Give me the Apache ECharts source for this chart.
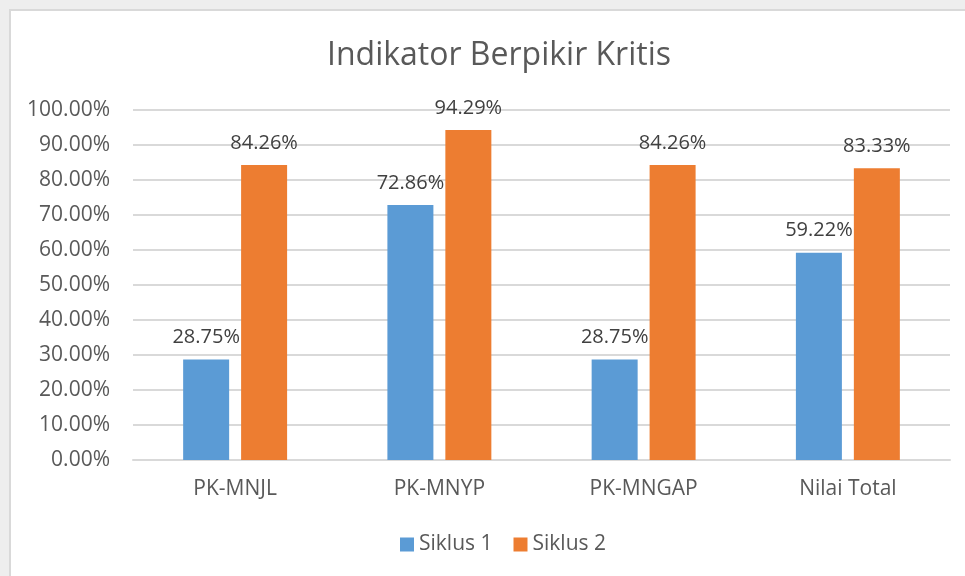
<!DOCTYPE html>
<html>
<head>
<meta charset="utf-8">
<script src="https://cdn.jsdelivr.net/npm/echarts@6/dist/echarts.min.js"></script>
<style>
  html, body { margin: 0; padding: 0; background: #eeeeee; }
  #main { width: 965px; height: 576px; }
</style>
</head>
<body>
<div id="main"></div>
<script>
const categories = ['PK-MNJL', 'PK-MNYP', 'PK-MNGAP', 'Nilai Total']
const siklus1 = [28.75, 72.86, 28.75, 59.22]
const siklus2 = [84.26, 94.29, 84.26, 83.33]
const yTicks = [0, 10, 20, 30, 40, 50, 60, 70, 80, 90, 100]

const textColor = '#595959'
const fontFamily = '"Open Sans", sans-serif'

let myChart = echarts.init(document.getElementById('main'))

const labelStyle = {
  show: true,
  position: 'top',
  distance: 12,
  color: '#404040',
  fontSize: 20,
  fontFamily: fontFamily,
  formatter: p => p.value.toFixed(2) + '%'
}

myChart.setOption({
  backgroundColor: '#eeeeee',
  animation: false,
  graphic: [
    {
      type: 'rect',
      z: -10,
      shape: { x: 10, y: 10, width: 980, height: 600 },
      style: { fill: '#ffffff', stroke: '#d9d9d9', lineWidth: 2 }
    }
  ],
  // the chart box is wider than the window, so centre is shifted right
  title: {
    text: 'Indikator Berpikir Kritis',
    left: 322,
    top: 35,
    textStyle: {
      color: textColor,
      fontSize: 32,
      fontWeight: 'normal',
      fontFamily: fontFamily
    }
  },
  legend: {
    data: ['Siklus 1', 'Siklus 2'],
    bottom: 16,
    left: 395,
    itemWidth: 14,
    itemHeight: 14,
    itemGap: 21,
    icon: 'rect',
    textStyle: { color: textColor, fontSize: 21, fontFamily: fontFamily }
  },
  grid: { left: 133, right: 15, top: 110, bottom: 116 },
  xAxis: {
    type: 'category',
    data: categories,
    axisLine: { lineStyle: { color: '#d9d9d9', width: 2 } },
    axisTick: { show: false },
    axisLabel: {
      color: textColor,
      fontSize: 21,
      fontFamily: fontFamily,
      margin: 19
    }
  },
  yAxis: {
    type: 'value',
    min: yTicks[0],
    max: yTicks[yTicks.length - 1],
    interval: 10,
    axisLine: { show: false },
    axisTick: { show: false },
    splitLine: { lineStyle: { color: '#d9d9d9', width: 2 } },
    axisLabel: {
      color: textColor,
      fontSize: 21,
      fontFamily: fontFamily,
      margin: 23,
      formatter: v => v.toFixed(2) + '%'
    }
  },
  series: [
    {
      name: 'Siklus 1',
      type: 'bar',
      data: siklus1,
      barWidth: 46,
      barGap: '26%',
      itemStyle: { color: '#5b9bd5' },
      label: labelStyle
    },
    {
      name: 'Siklus 2',
      type: 'bar',
      data: siklus2,
      barWidth: 46,
      barGap: '26%',
      itemStyle: { color: '#ed7d31' },
      label: labelStyle
    }
  ]
})
</script>
</body>
</html>
